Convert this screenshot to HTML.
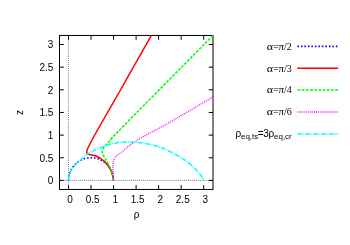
<!DOCTYPE html>
<html><head><meta charset="utf-8"><style>
html,body{margin:0;padding:0;background:#fff;}
svg{display:block;will-change:transform;}
.t{font-family:"Liberation Sans",sans-serif;font-size:10px;fill:#000;}
.s{font-family:"Liberation Serif",serif;font-size:10px;fill:#000;}
</style></head><body>
<svg width="350" height="245" viewBox="0 0 350 245">
<rect width="350" height="245" fill="#fff"/>
<rect x="59.50" y="35.45" width="153.50" height="154.00" fill="none" stroke="#000" stroke-width="1"/>
<line x1="68.50" y1="35.45" x2="68.50" y2="189.45" stroke="#808080" stroke-width="1" stroke-dasharray="1,1.04"/>
<line x1="59.50" y1="180.40" x2="213.00" y2="180.40" stroke="#808080" stroke-width="1" stroke-dasharray="1,1.04"/>
<path d="M68.50,189.45 v-4.30 M68.50,35.45 v4.30 M59.50,180.40 h4.30 M213.00,180.40 h-4.30" stroke="#000" stroke-width="1" fill="none"/>
<text x="70.10" y="203.30" text-anchor="middle" class="t">0</text>
<text x="53.30" y="184.30" text-anchor="end" class="t">0</text>
<path d="M91.03,189.45 v-4.30 M91.03,35.45 v4.30 M59.50,157.75 h4.30 M213.00,157.75 h-4.30" stroke="#000" stroke-width="1" fill="none"/>
<text x="92.63" y="203.30" text-anchor="middle" class="t">0.5</text>
<text x="53.30" y="161.65" text-anchor="end" class="t">0.5</text>
<path d="M113.57,189.45 v-4.30 M113.57,35.45 v4.30 M59.50,135.10 h4.30 M213.00,135.10 h-4.30" stroke="#000" stroke-width="1" fill="none"/>
<text x="115.17" y="203.30" text-anchor="middle" class="t">1</text>
<text x="53.30" y="139.00" text-anchor="end" class="t">1</text>
<path d="M136.11,189.45 v-4.30 M136.11,35.45 v4.30 M59.50,112.45 h4.30 M213.00,112.45 h-4.30" stroke="#000" stroke-width="1" fill="none"/>
<text x="137.71" y="203.30" text-anchor="middle" class="t">1.5</text>
<text x="53.30" y="116.35" text-anchor="end" class="t">1.5</text>
<path d="M158.64,189.45 v-4.30 M158.64,35.45 v4.30 M59.50,89.80 h4.30 M213.00,89.80 h-4.30" stroke="#000" stroke-width="1" fill="none"/>
<text x="160.24" y="203.30" text-anchor="middle" class="t">2</text>
<text x="53.30" y="93.70" text-anchor="end" class="t">2</text>
<path d="M181.18,189.45 v-4.30 M181.18,35.45 v4.30 M59.50,67.15 h4.30 M213.00,67.15 h-4.30" stroke="#000" stroke-width="1" fill="none"/>
<text x="182.78" y="203.30" text-anchor="middle" class="t">2.5</text>
<text x="53.30" y="71.05" text-anchor="end" class="t">2.5</text>
<path d="M203.71,189.45 v-4.30 M203.71,35.45 v4.30 M59.50,44.50 h4.30 M213.00,44.50 h-4.30" stroke="#000" stroke-width="1" fill="none"/>
<text x="205.31" y="203.30" text-anchor="middle" class="t">3</text>
<text x="53.30" y="48.40" text-anchor="end" class="t">3</text>
<path d="M68.50,180.40 C68.51,180.20 68.51,179.61 68.53,179.21 C68.55,178.82 68.58,178.43 68.62,178.03 C68.66,177.64 68.72,177.25 68.78,176.86 C68.84,176.47 68.91,176.08 68.99,175.69 C69.07,175.30 69.17,174.92 69.27,174.54 C69.37,174.16 69.48,173.78 69.60,173.40 C69.72,173.02 69.86,172.65 70.00,172.28 C70.14,171.91 70.29,171.55 70.45,171.19 C70.61,170.83 70.78,170.47 70.96,170.12 C71.13,169.77 71.32,169.42 71.52,169.08 C71.72,168.73 71.92,168.40 72.14,168.06 C72.35,167.73 72.57,167.41 72.80,167.09 C73.03,166.77 73.27,166.45 73.52,166.15 C73.77,165.84 74.03,165.54 74.29,165.24 C74.55,164.95 74.82,164.66 75.10,164.38 C75.38,164.10 75.66,163.83 75.96,163.57 C76.25,163.30 76.55,163.05 76.85,162.80 C77.16,162.55 77.47,162.31 77.79,162.08 C78.11,161.84 78.43,161.62 78.76,161.40 C79.09,161.19 79.43,160.98 79.77,160.78 C80.11,160.59 80.45,160.40 80.80,160.22 C81.15,160.04 81.51,159.87 81.87,159.71 C82.23,159.55 82.59,159.40 82.96,159.25 C83.33,159.11 83.70,158.98 84.07,158.86 C84.45,158.74 84.82,158.62 85.20,158.52 C85.58,158.42 85.97,158.33 86.35,158.24 C86.73,158.16 87.12,158.09 87.51,158.03 C87.90,157.97 88.29,157.92 88.68,157.87 C89.07,157.83 89.46,157.80 89.86,157.78 C90.25,157.76 90.64,157.75 91.03,157.75 C91.43,157.75 91.82,157.76 92.21,157.78 C92.61,157.80 93.00,157.83 93.39,157.87 C93.78,157.92 94.17,157.97 94.56,158.03 C94.95,158.09 95.34,158.16 95.72,158.24 C96.10,158.33 96.49,158.42 96.87,158.52 C97.25,158.62 97.62,158.74 98.00,158.86 C98.37,158.98 98.74,159.11 99.11,159.25 C99.48,159.40 99.84,159.55 100.20,159.71 C100.56,159.87 100.92,160.04 101.27,160.22 C101.62,160.40 101.96,160.59 102.30,160.78 C102.64,160.98 102.98,161.19 103.31,161.40 C103.64,161.62 103.96,161.84 104.28,162.08 C104.60,162.31 104.91,162.55 105.22,162.80 C105.52,163.05 105.82,163.30 106.11,163.57 C106.41,163.83 106.69,164.10 106.97,164.38 C107.25,164.66 107.52,164.95 107.78,165.24 C108.04,165.54 108.30,165.84 108.55,166.15 C108.80,166.45 109.04,166.77 109.27,167.09 C109.50,167.41 109.72,167.73 109.93,168.06 C110.15,168.40 110.35,168.73 110.55,169.08 C110.75,169.42 110.94,169.77 111.11,170.12 C111.29,170.47 111.46,170.83 111.62,171.19 C111.78,171.55 111.93,171.91 112.07,172.28 C112.21,172.65 112.35,173.02 112.47,173.40 C112.59,173.78 112.70,174.16 112.80,174.54 C112.90,174.92 113.00,175.30 113.08,175.69 C113.16,176.08 113.23,176.47 113.29,176.86 C113.35,177.25 113.41,177.64 113.45,178.03 C113.49,178.43 113.52,178.82 113.54,179.21 C113.56,179.61 113.56,180.20 113.57,180.40" fill="none" stroke="#0000ff" stroke-width="1.60" stroke-linecap="butt" stroke-linejoin="round" stroke-dasharray="1.5,2.0"/>
<path d="M113.55,180.40 C113.34,179.38 112.84,176.15 112.30,174.30 C111.76,172.45 111.35,171.18 110.30,169.30 C109.25,167.42 107.83,164.93 106.00,163.00 C104.17,161.07 101.15,158.90 99.30,157.70 C97.45,156.50 96.37,156.30 94.90,155.80 C93.43,155.30 91.68,155.02 90.50,154.70 C89.32,154.38 88.43,154.30 87.80,153.90 C87.17,153.50 86.73,153.15 86.70,152.30 C86.67,151.45 86.72,150.85 87.60,148.80 C88.48,146.75 89.87,143.97 92.00,140.00 C94.13,136.03 95.65,133.33 100.40,125.00 C105.15,116.67 114.80,100.00 120.50,90.00 C126.20,80.00 129.45,74.09 134.60,65.00 C139.75,55.91 148.60,40.38 151.40,35.45" fill="none" stroke="#ff0000" stroke-width="1.50" stroke-linecap="butt" stroke-linejoin="round"/>
<path d="M113.55,180.40 C113.29,179.17 112.83,175.68 112.00,173.00 C111.17,170.32 109.88,166.95 108.60,164.30 C107.32,161.65 105.35,159.13 104.30,157.10 C103.25,155.07 102.43,153.62 102.30,152.10 C102.17,150.58 102.45,149.67 103.50,148.00 C104.55,146.33 105.10,145.93 108.60,142.10 C112.10,138.27 107.10,142.78 124.50,125.00 C141.90,107.22 198.25,50.38 213.00,35.45" fill="none" stroke="#00ff00" stroke-width="1.50" stroke-linecap="butt" stroke-linejoin="round" stroke-dasharray="2.9,1.3"/>
<path d="M113.55,180.40 C113.44,178.43 112.99,171.52 112.90,168.60 C112.81,165.68 112.58,164.82 113.00,162.90 C113.42,160.98 114.12,158.77 115.40,157.10 C116.68,155.43 119.22,154.08 120.70,152.90 C122.18,151.72 122.87,151.20 124.30,150.00 C125.73,148.80 126.08,147.97 129.30,145.70 C132.52,143.43 137.65,139.85 143.60,136.40 C149.55,132.95 153.43,131.57 165.00,125.00 C176.57,118.43 205.00,101.67 213.00,97.00" fill="none" stroke="#ff00ff" stroke-width="1.35" stroke-linecap="butt" stroke-linejoin="round" stroke-dasharray="1,1.07"/>
<path d="M68.30,180.40 C68.45,179.58 68.78,177.03 69.20,175.50 C69.62,173.97 70.20,172.45 70.80,171.20 C71.40,169.95 72.12,168.95 72.80,168.00 C73.48,167.05 73.98,166.50 74.90,165.50 C75.82,164.50 77.02,163.25 78.30,162.00 C79.58,160.75 81.05,159.33 82.60,158.00 C84.15,156.67 85.93,155.15 87.60,154.00 C89.27,152.85 90.87,151.98 92.60,151.10 C94.33,150.22 95.82,149.63 98.00,148.70 C100.18,147.77 102.75,146.43 105.70,145.50 C108.65,144.57 112.00,143.70 115.70,143.10 C119.40,142.50 123.25,141.90 127.90,141.90 C132.55,141.90 138.60,142.32 143.60,143.10 C148.60,143.88 153.98,145.45 157.90,146.60 C161.82,147.75 164.37,148.78 167.10,150.00 C169.83,151.22 171.92,152.58 174.30,153.90 C176.68,155.22 179.02,156.40 181.40,157.90 C183.78,159.40 186.22,161.00 188.60,162.90 C190.98,164.80 193.80,167.40 195.70,169.30 C197.60,171.20 198.80,172.77 200.00,174.30 C201.20,175.83 202.18,177.48 202.90,178.50 C203.62,179.52 204.07,180.08 204.30,180.40" fill="none" stroke="#00ffff" stroke-width="1.50" stroke-linecap="butt" stroke-linejoin="round" stroke-dasharray="4.7,1.05,1.05,1.05"/>
<line x1="297.4" y1="46.40" x2="338.2" y2="46.40" stroke="#0000ff" stroke-width="1.60" stroke-dasharray="1.5,2.0"/>
<text y="49.70" class="s"><tspan x="266.7" textLength="6.3" lengthAdjust="spacingAndGlyphs">α</tspan><tspan x="273.0">=</tspan><tspan x="278.5" textLength="5.5" lengthAdjust="spacingAndGlyphs">π</tspan><tspan x="284.0">/</tspan><tspan x="286.8">2</tspan></text>
<line x1="297.4" y1="68.30" x2="338.2" y2="68.30" stroke="#ff0000" stroke-width="1.50"/>
<text y="71.60" class="s"><tspan x="266.7" textLength="6.3" lengthAdjust="spacingAndGlyphs">α</tspan><tspan x="273.0">=</tspan><tspan x="278.5" textLength="5.5" lengthAdjust="spacingAndGlyphs">π</tspan><tspan x="284.0">/</tspan><tspan x="286.8">3</tspan></text>
<line x1="297.4" y1="90.10" x2="338.2" y2="90.10" stroke="#00ff00" stroke-width="1.50" stroke-dasharray="2.9,1.3"/>
<text y="93.40" class="s"><tspan x="266.7" textLength="6.3" lengthAdjust="spacingAndGlyphs">α</tspan><tspan x="273.0">=</tspan><tspan x="278.5" textLength="5.5" lengthAdjust="spacingAndGlyphs">π</tspan><tspan x="284.0">/</tspan><tspan x="286.8">4</tspan></text>
<line x1="297.4" y1="112.00" x2="338.2" y2="112.00" stroke="#ff00ff" stroke-width="1.35" stroke-dasharray="1,1.07"/>
<text y="115.30" class="s"><tspan x="266.7" textLength="6.3" lengthAdjust="spacingAndGlyphs">α</tspan><tspan x="273.0">=</tspan><tspan x="278.5" textLength="5.5" lengthAdjust="spacingAndGlyphs">π</tspan><tspan x="284.0">/</tspan><tspan x="286.8">6</tspan></text>
<line x1="297.4" y1="134.00" x2="338.2" y2="134.00" stroke="#00ffff" stroke-width="1.50" stroke-dasharray="4.7,1.05,1.05,1.05"/>
<text y="136.50" class="t"><tspan x="235.45">ρ</tspan><tspan x="240.95" dy="2.4" font-size="8">eq,ts</tspan><tspan x="257.8" dy="-2.4">=</tspan><tspan x="263.2">3</tspan><tspan x="268.4">ρ</tspan><tspan x="274.0" dy="2.4" font-size="8">eq,cr</tspan></text>
<text x="136.50" y="218.00" text-anchor="middle" class="t">ρ</text>
<text transform="translate(22.8,112.6) rotate(-90)" text-anchor="middle" class="t">z</text>
</svg>
</body></html>
